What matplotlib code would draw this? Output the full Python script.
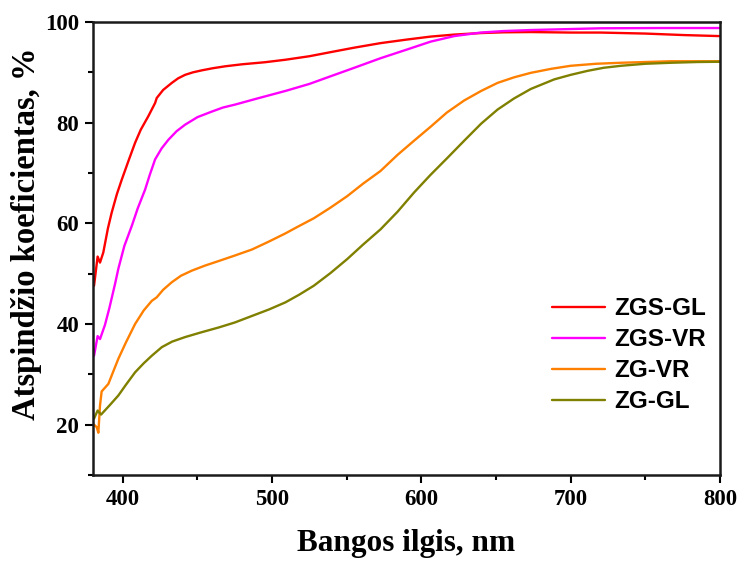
import numpy as np
import matplotlib
matplotlib.use("Agg")
import matplotlib.pyplot as plt
from matplotlib.ticker import MultipleLocator

# values
x_gl = [380.7, 383.1, 384.7, 386.9, 390.0, 392.5, 396.0, 399.3, 404.0, 408.2, 412.0,
        417.1, 421.6, 422.7, 427.0, 432.8, 437.0, 441.7, 447.0, 453.0, 460.0, 468.6,
        480.0, 495.0, 508.9, 525.0, 539.0, 555.0, 572.6, 590.0, 606.2, 622.0, 639.7,
        655.0, 673.3, 700.0, 720.0, 750.0, 776.0, 799.5]
y_gl = [47.6, 53.4, 52.2, 54.2, 59.0, 62.1, 65.8, 68.7, 72.6, 76.0, 78.6,
        81.3, 83.9, 84.9, 86.5, 87.9, 88.8, 89.5, 90.0, 90.4, 90.8, 91.2,
        91.6, 92.0, 92.5, 93.2, 94.0, 94.9, 95.8, 96.5, 97.1, 97.5, 97.8,
        97.95, 98.0, 97.9, 97.9, 97.7, 97.4, 97.2]

x_vr = [380.7, 383.1, 384.7, 388.0, 391.0, 394.8, 397.0, 401.0, 406.0, 410.0, 414.9,
        418.0, 421.6, 426.0, 430.5, 436.0, 441.7, 450.0, 459.6, 467.0, 475.3, 490.0,
        508.9, 525.0, 539.0, 555.0, 572.6, 590.0, 606.2, 622.0, 639.7, 655.0, 673.3,
        700.0, 720.0, 760.0, 799.5]
y_vr = [33.7, 37.6, 37.0, 39.8, 43.2, 48.0, 51.0, 55.5, 59.5, 63.0, 66.7,
        69.6, 72.7, 74.9, 76.6, 78.3, 79.6, 81.1, 82.2, 83.0, 83.6, 84.8,
        86.3, 87.7, 89.2, 90.9, 92.8, 94.5, 96.1, 97.2, 97.9, 98.2, 98.4,
        98.6, 98.75, 98.8, 98.8]

x_zgvr = [380.7, 382.5, 383.6, 384.7, 385.8, 390.3, 393.5, 397.0, 402.0, 408.2, 414.0,
          419.4, 422.7, 427.0, 432.8, 439.0, 446.2, 455.0, 464.1, 475.0, 486.5, 498.0,
          508.9, 517.0, 527.9, 539.0, 550.3, 561.0, 572.6, 584.0, 595.0, 606.2, 617.0,
          628.6, 640.0, 651.0, 662.0, 673.3, 687.0, 700.0, 717.0, 733.7, 767.0, 800.0]
y_zgvr = [20.0, 19.5, 18.4, 23.8, 26.6, 28.1, 30.5, 33.1, 36.3, 40.0, 42.7,
          44.6, 45.3, 46.8, 48.3, 49.6, 50.6, 51.6, 52.5, 53.6, 54.8, 56.4,
          58.0, 59.3, 61.0, 63.1, 65.4, 67.9, 70.4, 73.6, 76.4, 79.2, 82.0,
          84.4, 86.3, 87.9, 89.0, 89.9, 90.7, 91.3, 91.7, 91.9, 92.2, 92.2]

x_zggl = [380.7, 383.1, 385.4, 391.0, 397.0, 402.0, 408.2, 414.0, 419.4, 426.1, 433.0,
          441.7, 452.0, 464.1, 475.0, 486.5, 498.0, 508.9, 518.0, 527.9, 539.0, 550.3,
          561.0, 572.6, 584.0, 595.0, 606.0, 617.4, 628.6, 640.0, 651.0, 662.0, 673.3,
          689.0, 700.0, 711.4, 722.0, 733.7, 750.0, 767.2, 785.0, 800.0]
y_zggl = [21.2, 22.8, 22.0, 23.8, 25.8, 27.9, 30.4, 32.2, 33.7, 35.4, 36.5,
          37.4, 38.3, 39.3, 40.3, 41.6, 42.9, 44.3, 45.8, 47.6, 50.1, 52.9,
          55.8, 58.8, 62.3, 66.1, 69.6, 73.0, 76.4, 79.8, 82.6, 84.8, 86.7,
          88.6, 89.5, 90.3, 90.9, 91.3, 91.7, 91.9, 92.05, 92.1]

serif = "Liberation Serif"
sans = "Liberation Sans"
plt.rcParams["font.family"] = serif
plt.rcParams["font.weight"] = "bold"

fig = plt.figure(figsize=(7.38, 5.61), dpi=100)
ax = fig.add_axes([0.126, 0.1533, 0.8496, 0.8075])

kw = dict(lw=1.7, solid_joinstyle="round", solid_capstyle="round")
ax.plot(x_gl, y_gl, color="#ff0000", label="ZGS-GL", **kw)
ax.plot(x_vr, y_vr, color="#ff00ff", label="ZGS-VR", **kw)
ax.plot(x_zgvr, y_zgvr, color="#ff8000", label="ZG-VR", **kw)
ax.plot(x_zggl, y_zggl, color="#808000", label="ZG-GL", **kw)

ax.set_xlim(380, 800)
ax.set_ylim(10, 100)
ax.xaxis.set_major_locator(MultipleLocator(100))
ax.xaxis.set_minor_locator(MultipleLocator(50))
ax.yaxis.set_minor_locator(MultipleLocator(10))
ax.set_yticks([20, 40, 60, 80, 100])

for s in ax.spines.values():
    s.set_linewidth(1.8)
    s.set_color("#1a1a1a")

ax.tick_params(which="major", direction="out", length=6, width=1.5, labelsize=16.5, pad=4)
ax.tick_params(which="minor", direction="out", length=3.5, width=1.5)

ax.set_xlabel("Bangos ilgis, nm", fontsize=22.5, fontweight="bold", labelpad=14)
ax.set_ylabel("Atspindžio koeficientas, %", fontsize=23.5, fontweight="bold")
ax.yaxis.set_label_coords(-0.081, 0.532)

leg = ax.legend(loc="upper left", bbox_to_anchor=(0.732, 0.392), frameon=False,
                borderpad=0, borderaxespad=0, handlelength=2.2, handletextpad=0.35,
                labelspacing=0.33, prop={"family": sans, "weight": "bold", "size": 17.5})

fig.savefig("out.png", dpi=100)
